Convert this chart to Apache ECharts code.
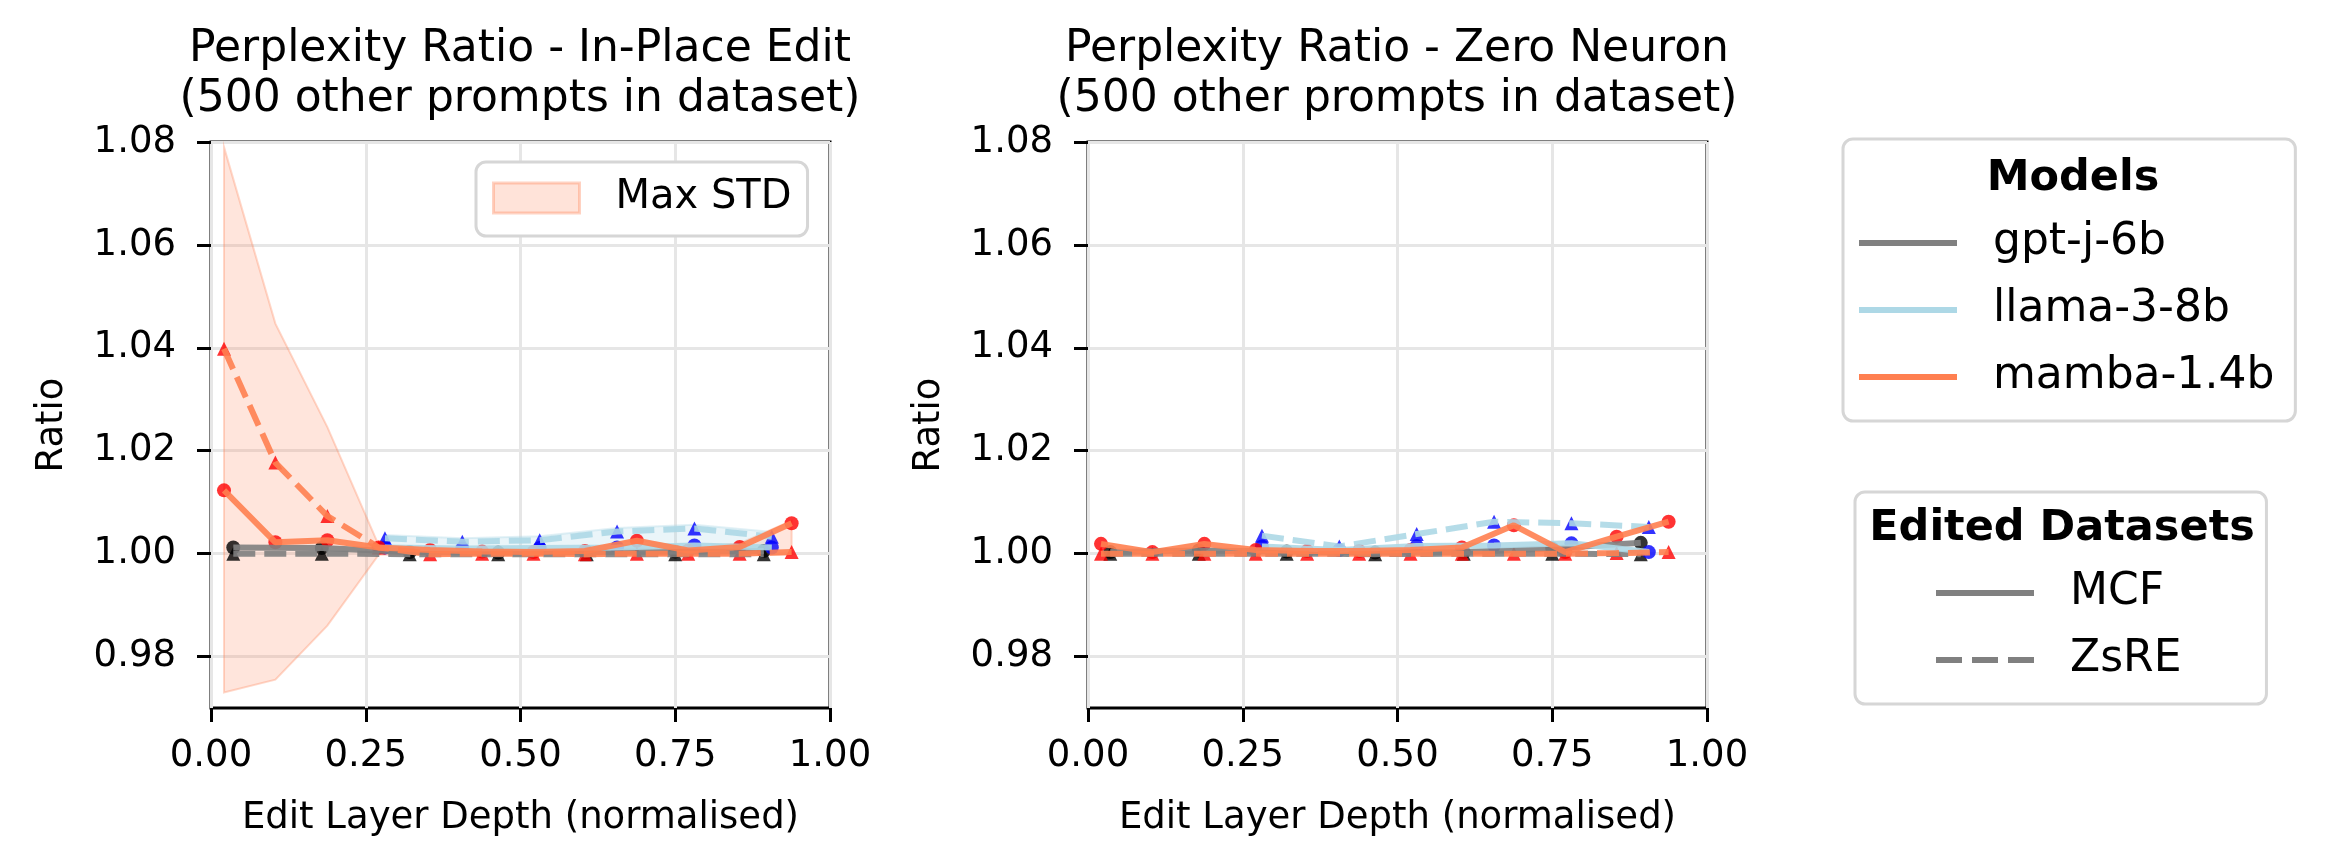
<!DOCTYPE html>
<html lang="en">
<head>
<meta charset="UTF-8">
<title>Perplexity Ratio</title>
<script src="https://cdnjs.cloudflare.com/ajax/libs/echarts/6.0.0/echarts.min.js"></script>
<style>
  html, body { margin: 0; padding: 0; background: #fff; }
  #chart { width: 2332px; height: 868px; }
</style>
</head>
<body>
<div id="chart"></div>
<script>
// normalised edit-layer depth for each model
const xsGpt = [0.036, 0.179, 0.321, 0.464, 0.607, 0.750, 0.893];
const xsLlama = [0.281, 0.406, 0.531, 0.656, 0.781, 0.906];
const xsMamba = [0.021, 0.104, 0.188, 0.271, 0.354, 0.438, 0.521, 0.604, 0.688, 0.771, 0.854, 0.938];

// In-Place Edit panel
const gptMcfL = [1.0012, 1.0011, 1.0003, 1.0002, 1.0003, 1.0004, 1.0005];
const gptZsreL = [1.0000, 1.0000, 0.9999, 0.9999, 0.9999, 0.9999, 0.9999];
const llamaMcfL = [1.0012, 1.0010, 1.0011, 1.0012, 1.0016, 1.0012];
const llamaZsreL = [1.0030, 1.0023, 1.0026, 1.0043, 1.0049, 1.0033];
const mambaMcfL = [1.0123, 1.0022, 1.0026, 1.0012, 1.0007, 1.0004, 1.0003, 1.0005, 1.0025, 1.0006, 1.0013, 1.0059];
const mambaZsreL = [1.0398, 1.0177, 1.0073, 1.0012, 0.9999, 1.0000, 1.0000, 0.9999, 1.0000, 1.0000, 1.0000, 1.0003];
const mambaStdLoL = [0.9730, 0.9755, 0.9860, 0.9998, 0.9998, 0.9998, 0.9998, 0.9998, 0.9998, 0.9998, 0.9998, 0.9998];
const mambaStdHiL = [1.0790, 1.0447, 1.0246, 1.0016, 1.0010, 1.0008, 1.0008, 1.0008, 1.0028, 1.0010, 1.0020, 1.0064];
const llamaStdLoL = [1.0008, 1.0007, 1.0008, 1.0009, 1.0012, 1.0008];
const llamaStdHiL = [1.0036, 1.0030, 1.0034, 1.0050, 1.0056, 1.0042];

// Zero Neuron panel
const gptMcfR = [1.0003, 1.0006, 1.0004, 1.0002, 1.0003, 1.0010, 1.0021];
const gptZsreR = [1.0000, 1.0000, 1.0000, 0.9999, 1.0000, 1.0000, 0.9999];
const llamaMcfR = [1.0014, 1.0007, 1.0015, 1.0016, 1.0020, 1.0003];
const llamaZsreR = [1.0035, 1.0014, 1.0038, 1.0062, 1.0059, 1.0052];
const mambaMcfR = [1.0019, 1.0003, 1.0019, 1.0007, 1.0005, 1.0005, 1.0007, 1.0012, 1.0055, 1.0003, 1.0033, 1.0062];
const mambaZsreR = [1.0000, 1.0000, 1.0000, 1.0000, 1.0000, 1.0000, 1.0000, 1.0000, 1.0000, 1.0000, 1.0001, 1.0003];

const yTicks = [0.98, 1.00, 1.02, 1.04, 1.06, 1.08];
const modelNames = ['gpt-j-6b', 'llama-3-8b', 'mamba-1.4b'];
const datasetNames = ['MCF', 'ZsRE'];

const FONT = 'DejaVu Sans';
const GREY = '#808080', LBLUE = '#add8e6', CORAL = '#ff7f50';
const SOLID_ICON = 'path://M0,0h98v6h-98z';
const DASH_ICON = 'path://M0,0h26v6h-26z M36,0h26v6h-26z M72,0h26v6h-26z';

const chart = echarts.init(document.getElementById('chart'));

const pts = (xs, ys) => xs.map((x, i) => [x, ys[i]]);

function line(name, g, xs, ys, color, dashed) {
  return {
    type: 'line', name, xAxisIndex: g, yAxisIndex: g,
    data: pts(xs, ys), symbol: 'none', silent: true, z: 4,
    lineStyle: { color, width: 6, opacity: 0.9, type: dashed ? [22, 9] : 'solid' }
  };
}

function marks(g, xs, ys, color, shape) {
  return {
    type: 'scatter', xAxisIndex: g, yAxisIndex: g,
    data: pts(xs, ys), symbol: shape, symbolSize: 14, silent: true, z: 3,
    itemStyle: { color }
  };
}

// std band drawn as one polygon through the axis scales
function band(name, g, xs, lo, hi, fill, stroke) {
  return {
    type: 'custom', name, xAxisIndex: g, yAxisIndex: g, silent: true, z: 1,
    data: xs.map((x, i) => [x, lo[i], hi[i]]),
    renderItem(params, api) {
      if (params.dataIndexInside !== 0) return null;
      const top = xs.map((x, i) => api.coord([x, hi[i]]));
      const bot = xs.map((x, i) => api.coord([x, lo[i]])).reverse();
      return {
        type: 'polygon',
        shape: { points: top.concat(bot) },
        style: { fill, stroke, lineWidth: 2 }
      };
    }
  };
}

function panel(g, d) {
  return [
    marks(g, xsGpt, d.gptMcf, '#000', 'circle'),
    marks(g, xsGpt, d.gptZsre, '#000', 'triangle'),
    marks(g, xsLlama, d.llamaMcf, '#0000ff', 'circle'),
    marks(g, xsLlama, d.llamaZsre, '#0000ff', 'triangle'),
    marks(g, xsMamba, d.mambaMcf, '#ff0000', 'circle'),
    marks(g, xsMamba, d.mambaZsre, '#ff0000', 'triangle'),
    line('gpt MCF ' + g, g, xsGpt, d.gptMcf, GREY, false),
    line('gpt ZsRE ' + g, g, xsGpt, d.gptZsre, GREY, true),
    line('llama MCF ' + g, g, xsLlama, d.llamaMcf, LBLUE, false),
    line('llama ZsRE ' + g, g, xsLlama, d.llamaZsre, LBLUE, true),
    line('mamba MCF ' + g, g, xsMamba, d.mambaMcf, CORAL, false),
    line('mamba ZsRE ' + g, g, xsMamba, d.mambaZsre, CORAL, true)
  ];
}

const gridBox = { top: 142, width: 619, height: 566, show: true, borderColor: '#000', borderWidth: 3, backgroundColor: '#fff' };

function xAxis(g) {
  return {
    type: 'value', gridIndex: g, min: 0, max: 1, interval: 0.25,
    name: 'Edit Layer Depth (normalised)', nameLocation: 'middle', nameGap: 92,
    nameTextStyle: { fontSize: 37, fontFamily: FONT, color: '#000' },
    axisLine: { show: false },
    axisTick: { show: true, length: 14, lineStyle: { color: '#000', width: 3 } },
    axisLabel: { margin: 30, fontSize: 37, fontFamily: FONT, color: '#000', formatter: v => v.toFixed(2) },
    splitLine: { show: true, lineStyle: { color: '#e6e6e6', width: 3 } }
  };
}

function yAxis(g) {
  return {
    type: 'value', gridIndex: g, min: 0.97, max: 1.08,
    name: 'Ratio', nameLocation: 'middle', nameGap: 140, nameRotate: 90,
    nameTextStyle: { fontSize: 37, fontFamily: FONT, color: '#000' },
    axisLine: { show: false },
    axisTick: { show: true, length: 14, customValues: yTicks, lineStyle: { color: '#000', width: 3 } },
    axisLabel: { margin: 35, fontSize: 37, fontFamily: FONT, color: '#000', customValues: yTicks, formatter: v => v.toFixed(2) },
    splitLine: { show: true, lineStyle: { color: '#e6e6e6', width: 3 } }
  };
}

const legendBase = {
  orient: 'vertical', backgroundColor: '#fff', borderColor: '#d6d6d6', borderWidth: 3, borderRadius: 10,
  itemWidth: 98, itemHeight: 6, itemGap: 23, selectedMode: false, symbolKeepAspect: false,
  textStyle: { fontSize: 44, fontFamily: FONT, color: '#000', lineHeight: 44, padding: [0, 0, 0, 31] }
};

const dummy = name => ({ type: 'line', name, data: [], symbol: 'none', xAxisIndex: 0, yAxisIndex: 0 });

const option = {
  animation: false,
  backgroundColor: '#fff',
  grid: [
    Object.assign({ left: 211 }, gridBox),
    Object.assign({ left: 1088 }, gridBox)
  ],
  xAxis: [xAxis(0), xAxis(1)],
  yAxis: [yAxis(0), yAxis(1)],
  legend: [
    Object.assign({}, legendBase, {
      left: 1843, top: 139, padding: [82, 21, 22, 16],
      data: modelNames.map((name, i) => ({ name, icon: SOLID_ICON, itemStyle: { color: [GREY, LBLUE, CORAL][i] } }))
    }),
    Object.assign({}, legendBase, {
      left: 1855, top: 492, padding: [79, 85, 22, 81],
      data: datasetNames.map((name, i) => ({ name, icon: i ? DASH_ICON : SOLID_ICON, itemStyle: { color: GREY } }))
    }),
    Object.assign({}, legendBase, {
      left: 476, top: 162, padding: [16, 16, 18, 16], itemWidth: 86, itemHeight: 30,
      textStyle: { fontSize: 40, fontFamily: FONT, color: '#000', lineHeight: 40, padding: [0, 0, 0, 31] },
      data: [{ name: 'Max STD', icon: 'rect',
        itemStyle: { color: 'rgba(255,127,80,0.22)', borderColor: 'rgba(255,127,80,0.35)', borderWidth: 3 } }]
    })
  ],
  graphic: [
    { type: 'text', x: 520, y: 25, silent: true,
      style: { text: 'Perplexity Ratio - In-Place Edit\n(500 other prompts in dataset)', textAlign: 'center',
        textVerticalAlign: 'top', fontSize: 44, lineHeight: 50, fontFamily: FONT, fill: '#000' } },
    { type: 'text', x: 1397, y: 25, silent: true,
      style: { text: 'Perplexity Ratio - Zero Neuron\n(500 other prompts in dataset)', textAlign: 'center',
        textVerticalAlign: 'top', fontSize: 44, lineHeight: 50, fontFamily: FONT, fill: '#000' } },
    { type: 'text', x: 2073, y: 179, silent: true, z: 100,
      style: { text: 'Models', textAlign: 'center', textVerticalAlign: 'middle', fontSize: 43,
        fontWeight: 'bold', fontFamily: FONT, fill: '#000' } },
    { type: 'text', x: 2062, y: 529, silent: true, z: 100,
      style: { text: 'Edited Datasets', textAlign: 'center', textVerticalAlign: 'middle', fontSize: 43,
        fontWeight: 'bold', fontFamily: FONT, fill: '#000' } }
  ],
  series: [
    band('Max STD', 0, xsMamba, mambaStdLoL, mambaStdHiL, 'rgba(255,127,80,0.2)', 'rgba(255,127,80,0.3)'),
    band('llama std', 0, xsLlama, llamaStdLoL, llamaStdHiL, 'rgba(173,216,230,0.25)', 'rgba(173,216,230,0.35)'),
    ...panel(0, { gptMcf: gptMcfL, gptZsre: gptZsreL, llamaMcf: llamaMcfL, llamaZsre: llamaZsreL, mambaMcf: mambaMcfL, mambaZsre: mambaZsreL }),
    ...panel(1, { gptMcf: gptMcfR, gptZsre: gptZsreR, llamaMcf: llamaMcfR, llamaZsre: llamaZsreR, mambaMcf: mambaMcfR, mambaZsre: mambaZsreR }),
    ...modelNames.map(dummy),
    ...datasetNames.map(dummy)
  ]
};

chart.setOption(option);
</script>
</body>
</html>
